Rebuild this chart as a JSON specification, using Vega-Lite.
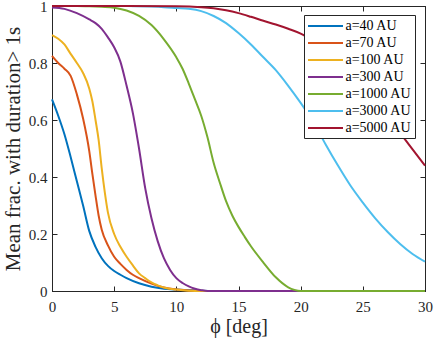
{
  "$schema": "https://vega.github.io/schema/vega-lite/v6.json",
  "width": 373,
  "height": 285,
  "autosize": "none",
  "padding": {"left": 52, "top": 6, "right": 11, "bottom": 49},
  "background": "white",
  "config": {
    "font": "Liberation Serif",
    "view": {"stroke": "#262626", "strokeWidth": 1},
    "axis": {
      "domainColor": "#262626",
      "tickColor": "#262626",
      "labelColor": "#262626",
      "titleColor": "#262626",
      "labelFont": "Liberation Serif",
      "titleFont": "Liberation Serif",
      "labelFontSize": 15,
      "titleFontWeight": "normal",
      "grid": false,
      "labelFlush": false,
      "tickSize": -5
    }
  },
  "data": {
    "values": [
      {"a": "a=40 AU", "phi": 0, "f": 0.672},
      {"a": "a=40 AU", "phi": 0.5, "f": 0.615},
      {"a": "a=40 AU", "phi": 1, "f": 0.55},
      {"a": "a=40 AU", "phi": 1.5, "f": 0.47},
      {"a": "a=40 AU", "phi": 2, "f": 0.385},
      {"a": "a=40 AU", "phi": 2.5, "f": 0.3},
      {"a": "a=40 AU", "phi": 3, "f": 0.21},
      {"a": "a=40 AU", "phi": 3.5, "f": 0.155},
      {"a": "a=40 AU", "phi": 4, "f": 0.115},
      {"a": "a=40 AU", "phi": 4.5, "f": 0.088},
      {"a": "a=40 AU", "phi": 5, "f": 0.07},
      {"a": "a=40 AU", "phi": 5.5, "f": 0.057},
      {"a": "a=40 AU", "phi": 6, "f": 0.045},
      {"a": "a=40 AU", "phi": 7, "f": 0.027},
      {"a": "a=40 AU", "phi": 8, "f": 0.015},
      {"a": "a=40 AU", "phi": 9, "f": 0.008},
      {"a": "a=40 AU", "phi": 10, "f": 0.005},
      {"a": "a=40 AU", "phi": 11, "f": 0.003},
      {"a": "a=40 AU", "phi": 12, "f": 0.001},
      {"a": "a=40 AU", "phi": 13, "f": 0},
      {"a": "a=40 AU", "phi": 30, "f": 0},
      {"a": "a=70 AU", "phi": 0, "f": 0.825},
      {"a": "a=70 AU", "phi": 0.5, "f": 0.8},
      {"a": "a=70 AU", "phi": 1, "f": 0.78},
      {"a": "a=70 AU", "phi": 1.5, "f": 0.755},
      {"a": "a=70 AU", "phi": 2, "f": 0.69},
      {"a": "a=70 AU", "phi": 2.5, "f": 0.605},
      {"a": "a=70 AU", "phi": 3, "f": 0.49},
      {"a": "a=70 AU", "phi": 3.25, "f": 0.41},
      {"a": "a=70 AU", "phi": 3.5, "f": 0.335},
      {"a": "a=70 AU", "phi": 3.75, "f": 0.265},
      {"a": "a=70 AU", "phi": 4, "f": 0.215},
      {"a": "a=70 AU", "phi": 4.5, "f": 0.16},
      {"a": "a=70 AU", "phi": 5, "f": 0.12},
      {"a": "a=70 AU", "phi": 5.5, "f": 0.095},
      {"a": "a=70 AU", "phi": 6, "f": 0.074},
      {"a": "a=70 AU", "phi": 6.5, "f": 0.057},
      {"a": "a=70 AU", "phi": 7, "f": 0.045},
      {"a": "a=70 AU", "phi": 8, "f": 0.026},
      {"a": "a=70 AU", "phi": 9, "f": 0.012},
      {"a": "a=70 AU", "phi": 10, "f": 0.005},
      {"a": "a=70 AU", "phi": 11, "f": 0.002},
      {"a": "a=70 AU", "phi": 12, "f": 0},
      {"a": "a=70 AU", "phi": 30, "f": 0},
      {"a": "a=100 AU", "phi": 0, "f": 0.898},
      {"a": "a=100 AU", "phi": 0.5, "f": 0.885},
      {"a": "a=100 AU", "phi": 1, "f": 0.865},
      {"a": "a=100 AU", "phi": 1.5, "f": 0.832},
      {"a": "a=100 AU", "phi": 2, "f": 0.8},
      {"a": "a=100 AU", "phi": 2.5, "f": 0.765},
      {"a": "a=100 AU", "phi": 3, "f": 0.71},
      {"a": "a=100 AU", "phi": 3.25, "f": 0.665},
      {"a": "a=100 AU", "phi": 3.5, "f": 0.6},
      {"a": "a=100 AU", "phi": 3.75, "f": 0.53},
      {"a": "a=100 AU", "phi": 4, "f": 0.43},
      {"a": "a=100 AU", "phi": 4.25, "f": 0.345},
      {"a": "a=100 AU", "phi": 4.5, "f": 0.275},
      {"a": "a=100 AU", "phi": 5, "f": 0.2},
      {"a": "a=100 AU", "phi": 5.5, "f": 0.155},
      {"a": "a=100 AU", "phi": 6, "f": 0.12},
      {"a": "a=100 AU", "phi": 6.5, "f": 0.09},
      {"a": "a=100 AU", "phi": 7, "f": 0.062},
      {"a": "a=100 AU", "phi": 7.5, "f": 0.045},
      {"a": "a=100 AU", "phi": 8, "f": 0.03},
      {"a": "a=100 AU", "phi": 8.5, "f": 0.02},
      {"a": "a=100 AU", "phi": 9, "f": 0.012},
      {"a": "a=100 AU", "phi": 10, "f": 0.005},
      {"a": "a=100 AU", "phi": 11, "f": 0.001},
      {"a": "a=100 AU", "phi": 12, "f": 0},
      {"a": "a=100 AU", "phi": 30, "f": 0},
      {"a": "a=300 AU", "phi": 0, "f": 0.995},
      {"a": "a=300 AU", "phi": 1, "f": 0.99},
      {"a": "a=300 AU", "phi": 2, "f": 0.975},
      {"a": "a=300 AU", "phi": 3, "f": 0.953},
      {"a": "a=300 AU", "phi": 3.5, "f": 0.94},
      {"a": "a=300 AU", "phi": 4, "f": 0.92},
      {"a": "a=300 AU", "phi": 4.5, "f": 0.89},
      {"a": "a=300 AU", "phi": 5, "f": 0.855},
      {"a": "a=300 AU", "phi": 5.5, "f": 0.805},
      {"a": "a=300 AU", "phi": 6, "f": 0.72},
      {"a": "a=300 AU", "phi": 6.5, "f": 0.625},
      {"a": "a=300 AU", "phi": 7, "f": 0.5},
      {"a": "a=300 AU", "phi": 7.5, "f": 0.36},
      {"a": "a=300 AU", "phi": 8, "f": 0.255},
      {"a": "a=300 AU", "phi": 8.5, "f": 0.175},
      {"a": "a=300 AU", "phi": 9, "f": 0.115},
      {"a": "a=300 AU", "phi": 9.5, "f": 0.074},
      {"a": "a=300 AU", "phi": 10, "f": 0.045},
      {"a": "a=300 AU", "phi": 10.5, "f": 0.028},
      {"a": "a=300 AU", "phi": 11, "f": 0.016},
      {"a": "a=300 AU", "phi": 11.5, "f": 0.008},
      {"a": "a=300 AU", "phi": 12, "f": 0.003},
      {"a": "a=300 AU", "phi": 12.5, "f": 0},
      {"a": "a=300 AU", "phi": 30, "f": 0},
      {"a": "a=1000 AU", "phi": 0, "f": 1},
      {"a": "a=1000 AU", "phi": 2, "f": 1},
      {"a": "a=1000 AU", "phi": 3, "f": 0.999},
      {"a": "a=1000 AU", "phi": 4, "f": 0.997},
      {"a": "a=1000 AU", "phi": 5, "f": 0.994},
      {"a": "a=1000 AU", "phi": 6, "f": 0.984},
      {"a": "a=1000 AU", "phi": 7, "f": 0.965},
      {"a": "a=1000 AU", "phi": 8, "f": 0.933},
      {"a": "a=1000 AU", "phi": 9, "f": 0.883},
      {"a": "a=1000 AU", "phi": 10, "f": 0.82},
      {"a": "a=1000 AU", "phi": 10.5, "f": 0.78},
      {"a": "a=1000 AU", "phi": 11, "f": 0.728},
      {"a": "a=1000 AU", "phi": 11.5, "f": 0.672},
      {"a": "a=1000 AU", "phi": 12, "f": 0.615},
      {"a": "a=1000 AU", "phi": 12.5, "f": 0.54},
      {"a": "a=1000 AU", "phi": 13, "f": 0.45},
      {"a": "a=1000 AU", "phi": 13.5, "f": 0.38},
      {"a": "a=1000 AU", "phi": 14, "f": 0.315},
      {"a": "a=1000 AU", "phi": 14.5, "f": 0.265},
      {"a": "a=1000 AU", "phi": 15, "f": 0.225},
      {"a": "a=1000 AU", "phi": 15.5, "f": 0.19},
      {"a": "a=1000 AU", "phi": 16, "f": 0.157},
      {"a": "a=1000 AU", "phi": 17, "f": 0.1},
      {"a": "a=1000 AU", "phi": 18, "f": 0.048},
      {"a": "a=1000 AU", "phi": 19, "f": 0.013},
      {"a": "a=1000 AU", "phi": 19.5, "f": 0.004},
      {"a": "a=1000 AU", "phi": 20, "f": 0},
      {"a": "a=1000 AU", "phi": 30, "f": 0},
      {"a": "a=3000 AU", "phi": 0, "f": 1},
      {"a": "a=3000 AU", "phi": 6, "f": 1},
      {"a": "a=3000 AU", "phi": 8, "f": 0.998},
      {"a": "a=3000 AU", "phi": 9, "f": 0.996},
      {"a": "a=3000 AU", "phi": 10, "f": 0.993},
      {"a": "a=3000 AU", "phi": 11, "f": 0.99},
      {"a": "a=3000 AU", "phi": 12, "f": 0.982},
      {"a": "a=3000 AU", "phi": 13, "f": 0.965},
      {"a": "a=3000 AU", "phi": 14, "f": 0.94},
      {"a": "a=3000 AU", "phi": 15, "f": 0.905},
      {"a": "a=3000 AU", "phi": 16, "f": 0.865},
      {"a": "a=3000 AU", "phi": 17, "f": 0.82},
      {"a": "a=3000 AU", "phi": 18, "f": 0.775},
      {"a": "a=3000 AU", "phi": 19, "f": 0.72},
      {"a": "a=3000 AU", "phi": 20, "f": 0.66},
      {"a": "a=3000 AU", "phi": 21, "f": 0.595},
      {"a": "a=3000 AU", "phi": 22, "f": 0.515},
      {"a": "a=3000 AU", "phi": 23, "f": 0.44},
      {"a": "a=3000 AU", "phi": 24, "f": 0.37},
      {"a": "a=3000 AU", "phi": 25, "f": 0.31},
      {"a": "a=3000 AU", "phi": 26, "f": 0.255},
      {"a": "a=3000 AU", "phi": 27, "f": 0.207},
      {"a": "a=3000 AU", "phi": 28, "f": 0.165},
      {"a": "a=3000 AU", "phi": 29, "f": 0.13},
      {"a": "a=3000 AU", "phi": 30, "f": 0.103},
      {"a": "a=5000 AU", "phi": 0, "f": 1},
      {"a": "a=5000 AU", "phi": 10, "f": 0.999},
      {"a": "a=5000 AU", "phi": 12, "f": 0.996},
      {"a": "a=5000 AU", "phi": 13, "f": 0.992},
      {"a": "a=5000 AU", "phi": 14, "f": 0.985},
      {"a": "a=5000 AU", "phi": 15, "f": 0.975},
      {"a": "a=5000 AU", "phi": 16, "f": 0.962},
      {"a": "a=5000 AU", "phi": 17, "f": 0.948},
      {"a": "a=5000 AU", "phi": 18, "f": 0.935},
      {"a": "a=5000 AU", "phi": 19, "f": 0.92},
      {"a": "a=5000 AU", "phi": 20, "f": 0.903},
      {"a": "a=5000 AU", "phi": 21, "f": 0.878},
      {"a": "a=5000 AU", "phi": 22, "f": 0.848},
      {"a": "a=5000 AU", "phi": 23, "f": 0.812},
      {"a": "a=5000 AU", "phi": 24, "f": 0.77},
      {"a": "a=5000 AU", "phi": 25, "f": 0.722},
      {"a": "a=5000 AU", "phi": 26, "f": 0.67},
      {"a": "a=5000 AU", "phi": 27, "f": 0.615},
      {"a": "a=5000 AU", "phi": 28, "f": 0.555},
      {"a": "a=5000 AU", "phi": 29, "f": 0.497},
      {"a": "a=5000 AU", "phi": 30, "f": 0.44}
    ]
  },
  "layer": [
    {
      "mark": {"type": "line", "strokeWidth": 2, "interpolate": "monotone"},
      "encoding": {
        "x": {
          "field": "phi", "type": "quantitative",
          "scale": {"domain": [0, 30], "nice": false},
          "axis": {"values": [0, 5, 10, 15, 20, 25, 30], "title": "ϕ [deg]", "titleFontSize": 20, "titleFont": "Liberation Serif", "labelFont": "Liberation Serif", "labelFontSize": 15, "labelFlush": false, "titleBaseline": "alphabetic", "titleY": 41, "labelPadding": 13}
        },
        "y": {
          "field": "f", "type": "quantitative",
          "scale": {"domain": [0, 1], "nice": false},
          "axis": {"values": [0, 0.2, 0.4, 0.6, 0.8, 1], "format": "~g", "title": "Mean frac. with duration> 1s", "titleFontSize": 21, "titleFont": "Liberation Serif", "labelFont": "Liberation Serif", "labelFontSize": 15, "labelFlush": false, "titleBaseline": "alphabetic", "titleX": -33, "labelPadding": 10}
        },
        "color": {
          "field": "a", "type": "nominal",
          "scale": {
            "domain": ["a=40 AU", "a=70 AU", "a=100 AU", "a=300 AU", "a=1000 AU", "a=3000 AU", "a=5000 AU"],
            "range": ["#0072BD", "#D95319", "#EDB120", "#7E2F8E", "#77AC30", "#4DBEEE", "#A2142F"]
          },
          "legend": {
            "title": null, "orient": "none", "legendX": 252, "legendY": 9,
            "symbolType": "M-2.5,0H2.5", "symbolSize": 196, "symbolStrokeWidth": 2,
            "symbolOffset": 10.5,
            "labelFontSize": 14, "labelFont": "Liberation Serif", "labelColor": "black",
            "padding": 3, "rowPadding": 2, "labelOffset": 12,
            "fillColor": "white", "strokeColor": "#262626"
          }
        }
      }
    },
    {
      "mark": {"type": "point", "opacity": 0},
      "encoding": {
        "x": {"field": "phi", "type": "quantitative", "axis": {"orient": "top", "labels": false, "title": null, "values": [0, 5, 10, 15, 20, 25, 30]}},
        "y": {"field": "f", "type": "quantitative", "axis": {"orient": "right", "labels": false, "title": null, "values": [0, 0.2, 0.4, 0.6, 0.8, 1]}}
      }
    }
  ],
  "resolve": {"axis": {"x": "independent", "y": "independent"}}
}
